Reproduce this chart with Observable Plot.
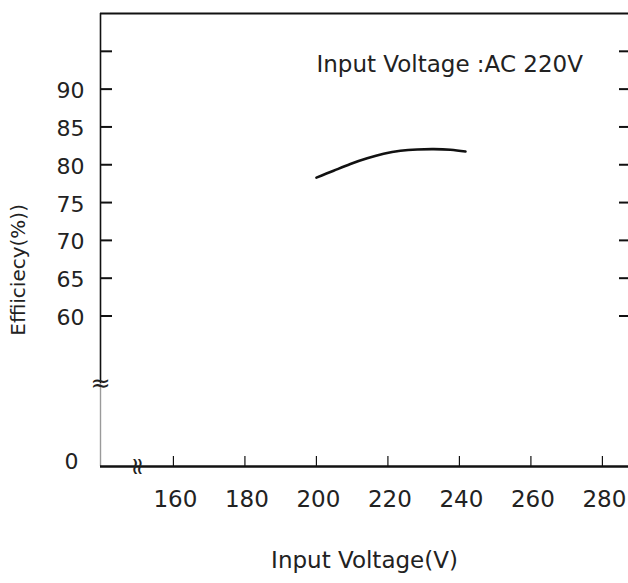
<!DOCTYPE html>
<html>
<head>
<meta charset="utf-8">
<script src="https://cdn.jsdelivr.net/npm/d3@7"></script>
<script src="https://cdn.jsdelivr.net/npm/@observablehq/plot@0.6"></script>
<style>
  html, body { margin: 0; padding: 0; background: #fff; }
  #chart svg { display: block; }
</style>
</head>
<body>
<div id="chart"></div>
<script>
// ---- data ----
const voltage    = [200, 204.8, 209.5, 214.2, 218.8, 223.5, 228.2, 232.8, 237.5, 241.7];
const efficiency = [78.3, 79.2, 80.1, 80.85, 81.45, 81.85, 82.02, 82.06, 81.98, 81.75];
const xTicks = [160, 180, 200, 220, 240, 260, 280];
const yTicks = [60, 65, 70, 75, 80, 85, 90, 95];
const yTickLabels = [60, 65, 70, 75, 80, 85, 90];
const yZeroLabel = [0];
const xDomain = [139.6, 287.3];
const yExtent = [0, 100];
const breakX = 150;
const breakY = 33;
const annotation = "Input Voltage :AC 220V";
const annotationAt = {x: 200, y: 93.2};
const xTitle = "Input Voltage(V)";
const yTitle = "Effiiciecy(%))";
const yTitleAt = 66.1;

// broken y axis: values below 60 are compressed
const breakFrom = 60, compressedSpan = 19.9;
const yBroken = v => v < breakFrom ? (breakFrom - compressedSpan) + v * compressedSpan / breakFrom : v;

const rows = voltage.map((v, i) => ({v, e: efficiency[i]}));
const font = "DejaVu Sans, sans-serif";

const chart = Plot.plot({
  width: 628,
  height: 583,
  marginLeft: 100,
  marginRight: 0,
  marginTop: 13,
  marginBottom: 117,
  style: {fontFamily: font, color: "#222", background: "#fff"},
  x: {domain: xDomain, axis: null},
  y: {transform: yBroken, axis: null, nice: false},
  marks: [
    // frame lines
    Plot.ruleY([yExtent[1]], {stroke: "#111", strokeWidth: 2}),
    Plot.ruleX([xDomain[0]], {y1: breakY, y2: yExtent[1], stroke: "#111", strokeWidth: 1.6}),
    Plot.ruleX([xDomain[0]], {y1: yExtent[0], y2: breakY, stroke: "#9a9a9a", strokeWidth: 1.4}),
    // y ticks, inward on left and right
    Plot.tickY(yTicks, {y: d => d, insetRight: 528 - 12, stroke: "#111", strokeWidth: 2}),
    Plot.tickY(yTicks, {y: d => d, insetLeft: 528 - 9, stroke: "#111", strokeWidth: 2}),
    // x ticks, upward
    Plot.tickX(xTicks, {x: d => d, insetTop: 453 - 10, stroke: "#111", strokeWidth: 1.2}),
    Plot.ruleY([yExtent[0]], {stroke: "#111", strokeWidth: 2.5}),
    // breaks
    Plot.text(["≈"], {frameAnchor: "left", y: () => breakY, text: d => d, textAnchor: "middle", fontSize: 24, fill: "#222"}),
    Plot.text(["≈"], {x: () => breakX, y: () => yExtent[0], text: d => d, rotate: 90, fontSize: 24, fill: "#222"}),
    // curve
    Plot.line(rows, {x: "v", y: "e", curve: "natural", stroke: "#111", strokeWidth: 2.6}),
    // tick labels
    Plot.text(yTickLabels, {y: d => d, text: d => String(d), frameAnchor: "left", dx: -16, dy: 2, textAnchor: "end", fontSize: 22, fill: "#222"}),
    Plot.text(yZeroLabel, {y: d => d, text: d => String(d), frameAnchor: "left", dx: -22, dy: -5, textAnchor: "end", fontSize: 22, fill: "#222"}),
    Plot.text(xTicks, {x: d => d, text: d => String(d), frameAnchor: "bottom", dy: 40, dx: 2, fontSize: 23, fill: "#222"}),
    // annotation
    Plot.text([annotation], {x: () => annotationAt.x, y: () => annotationAt.y, text: d => d, textAnchor: "start", fontSize: 23, fill: "#222"}),
    // titles
    Plot.text([xTitle], {frameAnchor: "bottom", text: d => d, dy: 101, fontSize: 23, fill: "#222"}),
    Plot.text([yTitle], {frameAnchor: "left", y: () => yTitleAt, text: d => d, textAnchor: "middle", dx: -82, rotate: -90, fontSize: 20, fill: "#222"})
  ]
});
document.getElementById("chart").appendChild(chart);
</script>
</body>
</html>
